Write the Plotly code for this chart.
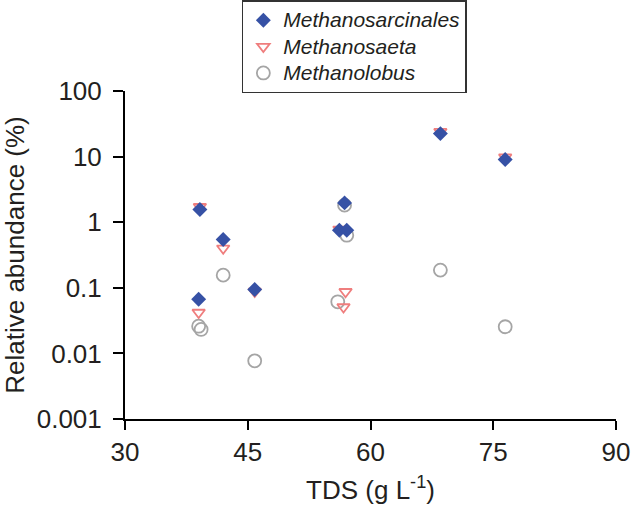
import plotly.graph_objects as go

# Methanosarcinales (blue diamonds)
sarc_x = [39.15, 39.0, 42.0, 45.85, 56.83, 56.2, 57.1, 68.54, 76.46]
sarc_y = [1.56, 0.067, 0.546, 0.094, 1.97, 0.755, 0.755, 22.4, 9.0]

# Methanosaeta (pink down-triangles)
saeta_x = [39.15, 39.0, 42.0, 45.85, 56.95, 56.7, 56.2, 68.54, 76.46]
saeta_y = [1.72, 0.042, 0.40, 0.088, 0.087, 0.051, 0.78, 24.0, 9.8]

# Methanolobus (grey circles)
lobus_x = [39.0, 39.3, 42.0, 45.85, 56.83, 57.1, 56.0, 68.54, 76.46]
lobus_y = [0.026, 0.0232, 0.156, 0.0077, 1.82, 0.634, 0.0612, 0.186, 0.0255]

x_ticks = [30, 45, 60, 75, 90]
y_ticks = [0.001, 0.01, 0.1, 1, 10, 100]
y_ticklabels = ["0.001", "0.01", "0.1", "1", "10", "100"]

FONT = "Liberation Sans, Arial, sans-serif"
TXT = "#231F20"


def leg(name):
    return '<span style="font-size:21px"><i>%s</i></span>' % name


fig = go.Figure()
fig.add_trace(go.Scatter(
    x=lobus_x, y=lobus_y, mode="markers", name=leg("Methanolobus"),
    legendrank=3,
    marker=dict(symbol="circle-open", size=13, color="#A5A5A5",
                line=dict(width=1.8, color="#A5A5A5"))))
fig.add_trace(go.Scatter(
    x=saeta_x, y=saeta_y, mode="markers", name=leg("Methanosaeta"),
    legendrank=2,
    marker=dict(symbol="triangle-down-open", size=11, color="#EF7E7E",
                line=dict(width=1.8, color="#EF7E7E"))))
fig.add_trace(go.Scatter(
    x=sarc_x, y=sarc_y, mode="markers", name=leg("Methanosarcinales"),
    legendrank=1,
    marker=dict(symbol="diamond", size=11.5, color="#3651A5", line=dict(width=0))))

fig.update_layout(
    width=631, height=509,
    margin=dict(l=125, r=15, t=91, b=90, autoexpand=False),
    paper_bgcolor="white", plot_bgcolor="white",
    font=dict(family=FONT, size=26, color=TXT),
    showlegend=True,
    legend=dict(
        x=0.238, y=1.276, xanchor="left", yanchor="top",
        bordercolor="#333333", borderwidth=1.5, bgcolor="white",
        font=dict(family=FONT, size=18, color=TXT),
        tracegroupgap=0, itemwidth=30,
    ),
    xaxis=dict(
        range=[30, 90], tickvals=x_ticks, ticktext=[str(v) for v in x_ticks],
        showgrid=False, zeroline=False, showline=True, linecolor="black", linewidth=2,
        ticks="outside", ticklen=9, tickwidth=2, tickcolor="black",
        tickfont=dict(size=26), ticklabelstandoff=0, ticklabeloverflow="allow",
        title=dict(text="TDS (g L<sup>-1</sup>)", font=dict(size=26), standoff=15),
    ),
    yaxis=dict(
        type="log", range=[-3, 2], tickvals=y_ticks, ticktext=y_ticklabels,
        showgrid=False, zeroline=False, showline=True, linecolor="black", linewidth=2,
        ticks="outside", ticklen=10, tickwidth=2, tickcolor="black",
        tickfont=dict(size=26), ticklabelstandoff=6, ticklabeloverflow="allow",
        title=dict(text="Relative abundance (%)", font=dict(size=26), standoff=10),
    ),
)

# remove the browser's default 8px body margin so the figure fills the window exactly
fig.write_html("out.html", config={"displayModeBar": False},
               post_script="document.body.style.margin='0';")
